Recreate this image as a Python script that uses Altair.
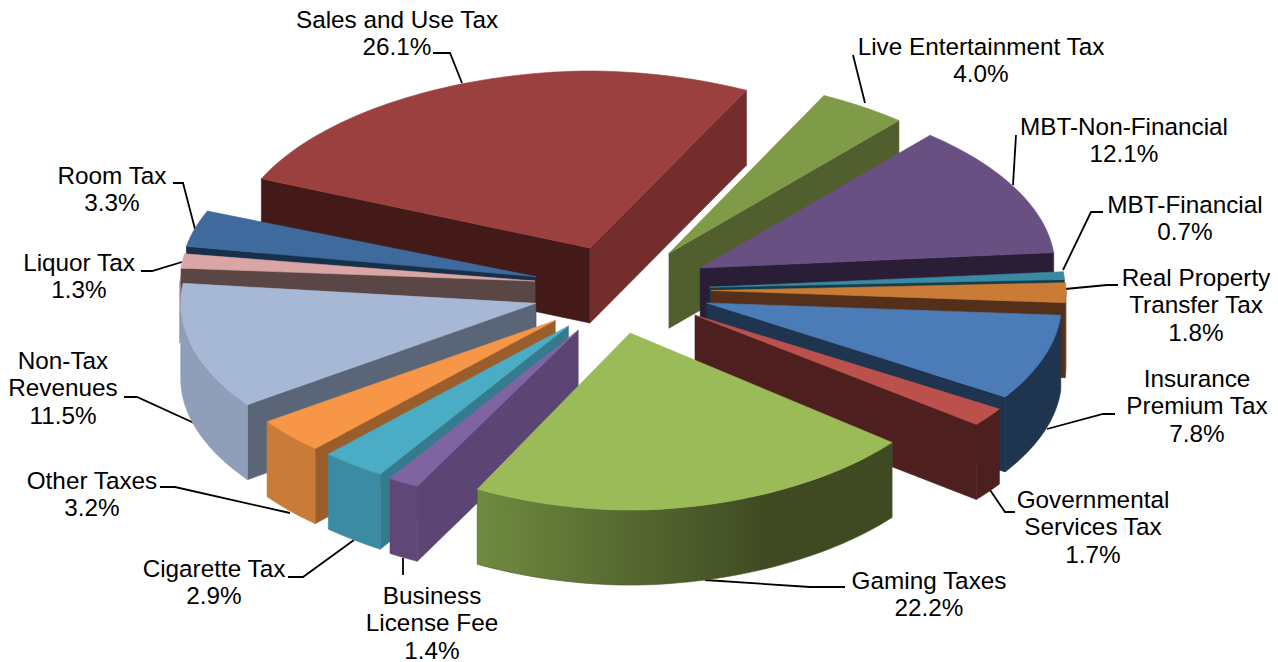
import math
import altair as alt
import pandas as pd

categories = ["Live Entertainment Tax", "MBT-Non-Financial", "MBT-Financial",
              "Real Property Transfer Tax", "Insurance Premium Tax",
              "Governmental Services Tax", "Gaming Taxes", "Business License Fee",
              "Cigarette Tax", "Other Taxes", "Non-Tax Revenues", "Liquor Tax",
              "Room Tax", "Sales and Use Tax"]
values = [4.0, 12.1, 0.7, 1.8, 7.8, 1.7, 22.2, 1.4, 2.9, 3.2, 11.5, 1.3, 3.3, 26.1]
label_lines = ["Live Entertainment Tax\n4.0%", "MBT-Non-Financial\n12.1%", "MBT-Financial\n0.7%",
               "Real Property\nTransfer Tax\n1.8%", "Insurance\nPremium Tax\n7.8%",
               "Governmental\nServices Tax\n1.7%", "Gaming Taxes\n22.2%",
               "Business\nLicense Fee\n1.4%", "Cigarette Tax\n2.9%", "Other Taxes\n3.2%",
               "Non-Tax\nRevenues\n11.5%", "Liquor Tax\n1.3%", "Room Tax\n3.3%",
               "Sales and Use Tax\n26.1%"]

top_colors = ["#7F9B48", "#695083", "#3A8AA4", "#CA7C36", "#4C7CB8", "#BC504D", "#9BBB59",
              "#8064A2", "#4BACC6", "#F79646", "#A7B8D6", "#D9A5A5", "#3F6A9E", "#9A403E"]
start_wall = ["#505F2D", "#2A1E36", "#153D49", "#54301A", "#1F344E", "#4E1F1F", "#3F4A22",
              "#5C4574", "#357A8D", "#995E2B", "#5A6677", "#5A4644", "#17304A", "#431A18"]
end_wall = ["#505F2D", "#2A1E36", "#153D49", "#54301A", "#1F344E", "#4E1F1F", "#3F4A22",
            "#5C4574", "#357A8D", "#995E2B", "#5A6677", "#5A4644", "#17304A", "#722D2C"]
outer_wall = ["#505F2D", "#2A1E36", "#153D49", "#6B3E18", "#1F344E", "#4E1F1F", "#6F8A40",
              "#5F4778", "#3C8BA2", "#C97B3A", "#8F9FB9", "#B8989A", "#17304A", "#722D2C"]
draw_order = [13, 0, 1, 12, 11, 2, 3, 10, 4, 9, 8, 7, 5, 6]

label_x = [981, 1124, 1185, 1196, 1197, 1093, 929, 432, 214, 92, 63, 79, 112, 397]
label_y = [48, 128, 206, 279, 380, 501, 582, 597, 570, 482, 362, 264, 177, 21]
leaders = [[(853, 55), (865, 103)],
           [(1016, 135), (1013, 185)],
           [(1103, 212), (1091, 212), (1063, 270)],
           [(1118, 285), (1107, 285), (1065, 289)],
           [(1115, 414), (1103, 414), (1047, 429)],
           [(1015, 512), (1005, 512), (990, 490)],
           [(845, 587), (810, 587), (705, 580)],
           [(403, 575), (403, 558)],
           [(288, 577), (303, 577), (354, 540)],
           [(160, 487), (175, 487), (290, 513)],
           [(124, 397), (137, 397), (194, 423)],
           [(141, 271), (152, 271), (182, 262)],
           [(173, 183), (183, 183), (195, 229)],
           [(433, 53), (450, 53), (462, 83)]]

# projection of the tilted pie
CX, CY = 621, 290
RX, RY = 355, 177
EX, EY = 88, 42
DEPTH = 75
START = 27.0
POW = 1.05
nudge_x = [-1.5, 0.6, 1, 2, 2, 2, -9, 2, 2, 1, 0, 1, -1, -1]
nudge_y = [-2, -3, 0, 0, 0, 1, 2, 4, 3, 3, 3, -2.5, -1, -2.5]
rx_scale = [1, 1, 1, 1, 1, 1.02, 0.95, 1, 1, 1, 1, 1, 1, 1.01]
turn = [0, 0, 0, 0, 0, 0, 0, 0, 0, 0, 0, -2.3, -1.3, 0]


def rim(theta, k):
    s, c = math.sin(math.radians(theta)), math.cos(math.radians(theta))
    return math.copysign(abs(s) ** POW, s) * RX * rx_scale[k], -c * RY


x_scale = alt.Scale(domain=[8, 1270], nice=False, zero=False)
y_scale = alt.Scale(domain=[662, 8], nice=False, zero=False)
X = alt.X("x:Q", scale=x_scale, axis=None)
Y = alt.Y("y:Q", scale=y_scale, axis=None)


def polygon(points, fill):
    rows = [{"x": p[0], "y": p[1], "i": n} for n, p in enumerate(points)]
    rows.append({"x": points[0][0], "y": points[0][1], "i": len(points)})
    stroke = fill if isinstance(fill, str) else "#4a5a2a"
    return alt.Chart(pd.DataFrame(rows)).mark_line(
        fill=fill, stroke=stroke, strokeWidth=0.6, interpolate="linear"
    ).encode(x=X, y=Y, order=alt.Order("i:Q"))


angles = []
cum = START
for v in values:
    angles.append((cum, cum + v * 3.6))
    cum += v * 3.6

layers = []
for k in range(len(categories)):
    pts = leaders[k]
    rows = [{"x": p[0], "y": p[1], "i": n} for n, p in enumerate(pts)]
    layers.append(alt.Chart(pd.DataFrame(rows)).mark_line(color="black", strokeWidth=1.8).encode(
        x=X, y=Y, order=alt.Order("i:Q")))

gaming_gradient = alt.LinearGradient(
    gradient="linear", x1=0, x2=1, y1=0, y2=0,
    stops=[alt.GradientStop(offset=0, color="#6F8A40"),
           alt.GradientStop(offset=0.7, color="#3F4A22"),
           alt.GradientStop(offset=1, color="#3F4A22")])

for k in draw_order:
    a0, a1 = angles[k]
    mid = (a0 + a1) / 2
    ax = CX + EX * math.sin(math.radians(mid)) + nudge_x[k]
    ay = CY - EY * math.cos(math.radians(mid)) + nudge_y[k]
    a0 += turn[k]
    a1 += turn[k]
    steps = max(3, int((a1 - a0) / 1.5))
    arc = [a0 + (a1 - a0) * n / steps for n in range(steps + 1)]
    top = [(ax, ay)] + [(ax + rim(t, k)[0], ay + rim(t, k)[1]) for t in arc]
    c0 = top[1]
    c1 = top[-1]
    lo = max(a0, 90)
    hi = a1 if k == 11 else min(a1, 270)
    outer = None
    if hi > lo:
        n = max(3, int((hi - lo) / 1.5))
        front = [lo + (hi - lo) * i / n for i in range(n + 1)]
        upper = [(ax + rim(t, k)[0], ay + rim(t, k)[1]) for t in front]
        lower = [(p[0], p[1] + DEPTH) for p in reversed(upper)]
        fill = gaming_gradient if k == 6 else outer_wall[k]
        if k == 11:
            upper = [(p[0] - 1.5, p[1] + 15) for p in upper]
            lower = [(p[0] - 1.5, p[1]) for p in lower]
        outer = polygon(upper + lower, fill)
    if k == 11 and outer is not None:
        layers.append(outer)
    if math.sin(math.radians(a0)) < 0:
        layers.append(polygon([(ax, ay), c0, (c0[0], c0[1] + DEPTH), (ax, ay + DEPTH)], start_wall[k]))
    if math.sin(math.radians(a1 % 360)) > 0:
        layers.append(polygon([(ax, ay), c1, (c1[0], c1[1] + DEPTH), (ax, ay + DEPTH)], end_wall[k]))
    if k != 11 and outer is not None:
        layers.append(outer)
    layers.append(polygon(top, top_colors[k]))

labels = pd.DataFrame({"x": label_x, "y": label_y, "t": label_lines, "cat": categories, "val": values})
text = alt.Chart(labels).mark_text(
    font="Liberation Sans", fontSize=24.3, lineBreak="\n", lineHeight=27.3,
    align="center", baseline="middle", color="black"
).encode(x=X, y=Y, text="t:N")
layers.append(text)

chart = alt.layer(*layers).properties(
    width=1262, height=654, padding=0,
    autosize=alt.AutoSizeParams(type="none")
).configure_view(stroke=None)

chart.save("out.html", embed_options={"renderer": "svg", "actions": False})
